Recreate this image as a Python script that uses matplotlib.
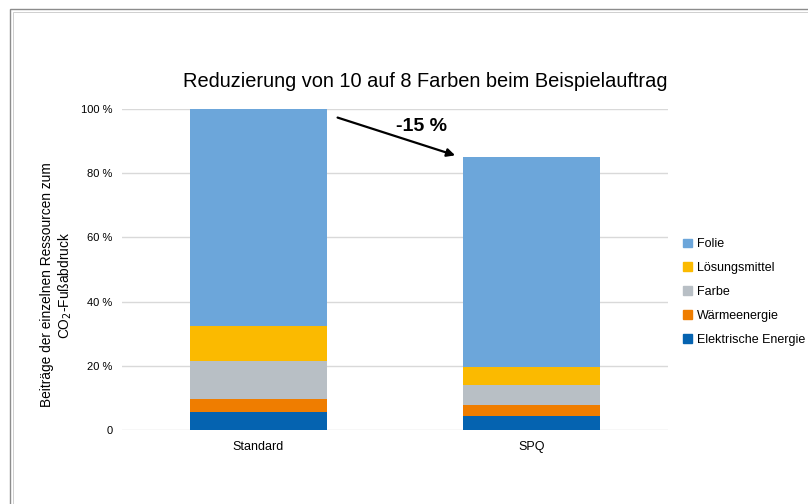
import numpy as np
import matplotlib
matplotlib.use('Agg')
import matplotlib.pyplot as plt
from matplotlib.patches import Patch, Rectangle

plt.rcParams.update({'font.family': ['Liberation Sans', 'DejaVu Sans'], 'font.size': 8})

categories = ['Standard', 'SPQ']
series = ['Elektrische Energie', 'Wärmeenergie', 'Farbe', 'Lösungsmittel', 'Folie']
values = {
    'Elektrische Energie': [5.7, 4.5],
    'Wärmeenergie': [3.9, 3.4],
    'Farbe': [11.9, 6.1],
    'Lösungsmittel': [11.0, 5.7],
    'Folie': [67.5, 65.3],
}
colors = {
    'Elektrische Energie': '#0563b0',
    'Wärmeenergie': '#ef7d00',
    'Farbe': '#b8bfc5',
    'Lösungsmittel': '#fbba00',
    'Folie': '#6ca6da',
}
yticks = [0, 20, 40, 60, 80, 100]
ytick_labels = ['0', '20 %', '40 %', '60 %', '80 %', '100 %']

fig = plt.figure(figsize=(8.08, 5.04), dpi=100)
ax = fig.add_axes([0.151, 0.1468, 0.6757, 0.6369])

# outer frame (double grey line)
fig.patches.append(Rectangle((0.0125, -0.1), 1.2, 1.082, transform=fig.transFigure,
                             fill=False, edgecolor='#8c8c8c', lw=1.0))
fig.patches.append(Rectangle((0.016, -0.1), 1.2, 1.076, transform=fig.transFigure,
                             fill=False, edgecolor='#c8c8c8', lw=0.6))

x = np.arange(len(categories))
bottom = np.zeros(len(categories))
for s in series:
    v = np.array(values[s])
    ax.bar(x, v, 0.503, bottom=bottom, color=colors[s], label=s, zorder=3)
    bottom += v

ax.set_xlim(-0.5, 1.5)
ax.set_ylim(0, 100)
ax.set_yticks(yticks)
ax.set_yticklabels(ytick_labels)
ax.set_xticks(x)
ax.set_xticklabels(categories)
ax.tick_params(axis='y', length=0, labelsize=8, pad=7)
ax.tick_params(axis='x', length=0, labelsize=9, pad=8)
for sp in ax.spines.values():
    sp.set_visible(False)
ax.grid(axis='y', color='#d9d9d9', lw=1.0, zorder=0)
ax.set_axisbelow(True)

fig.text(57 / 808, 1 - 285 / 504, 'Beiträge der einzelnen Ressourcen zum\nCO$_2$-Fußabdruck',
         fontsize=9.9, rotation=90, ha='center', va='center', linespacing=1.25,
         multialignment='center')
ax.set_title('Reduzierung von 10 auf 8 Farben beim Beispielauftrag', fontsize=14.4,
             pad=16, x=0.555)

# reduction arrow
ax.annotate('', xy=(0.73, bottom[1] + 0.3), xytext=(0.28, 97.6),
            arrowprops=dict(arrowstyle='-|>', color='black', lw=1.6, mutation_scale=12),
            annotation_clip=False)
ax.text(0.597, 94.5, '-15 %', fontsize=14, fontweight='bold', ha='center', va='center')

handles = [Patch(color=colors[s], label=s) for s in reversed(series)]
fig.legend(handles=handles, loc='upper left', bbox_to_anchor=(0.8397, 0.537), frameon=False,
           fontsize=9, handlelength=0.7, handleheight=0.7, handletextpad=0.4,
           labelspacing=0.95, borderaxespad=0)

plt.savefig('out.png', dpi=100)
